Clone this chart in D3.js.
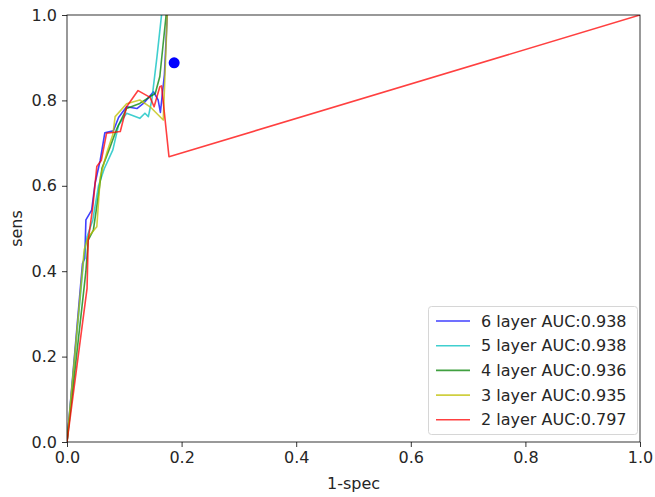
<!doctype html>
<html>
  <head>
    <script src="https://d3js.org/d3.v7.min.js"></script>
    <style>
      body { margin: 0; background: #fff; }
      text { font-family: "DejaVu Sans", sans-serif; fill: #262626; }
    </style>
  </head>
  <body>
    <svg width=655 height=497></svg>
    <script>
      // curves: false positive rate / true positive rate
      var fpr6 = [0, 0.027, 0.031, 0.033, 0.043, 0.049, 0.058, 0.066, 0.081, 0.090, 0.104, 0.122, 0.135, 0.151, 0.159, 0.163, 0.170, 0.175];
      var tpr6 = [0, 0.418, 0.430, 0.520, 0.543, 0.606, 0.660, 0.724, 0.729, 0.760, 0.785, 0.781, 0.795, 0.820, 0.801, 0.772, 0.860, 1.0];

      var fpr5 = [0, 0.030, 0.035, 0.045, 0.055, 0.065, 0.080, 0.090, 0.104, 0.127, 0.136, 0.142, 0.148, 0.157, 0.165];
      var tpr5 = [0, 0.440, 0.480, 0.520, 0.600, 0.640, 0.684, 0.742, 0.770, 0.758, 0.770, 0.762, 0.801, 0.902, 1.0];

      var fpr4 = [0, 0.033, 0.037, 0.046, 0.055, 0.061, 0.075, 0.087, 0.104, 0.127, 0.145, 0.154, 0.162, 0.173];
      var tpr4 = [0, 0.400, 0.473, 0.496, 0.580, 0.641, 0.690, 0.734, 0.781, 0.793, 0.809, 0.816, 0.856, 1.0];

      var fpr3 = [0, 0.030, 0.037, 0.052, 0.058, 0.070, 0.080, 0.084, 0.104, 0.127, 0.145, 0.168, 0.175];
      var tpr3 = [0, 0.450, 0.480, 0.504, 0.620, 0.680, 0.720, 0.762, 0.792, 0.801, 0.785, 0.754, 1.0];

      var fpr2 = [0, 0.035, 0.037, 0.045, 0.052, 0.060, 0.069, 0.093, 0.104, 0.124, 0.145, 0.152, 0.162, 0.165, 0.178, 1.0];
      var tpr2 = [0, 0.360, 0.473, 0.550, 0.645, 0.660, 0.723, 0.727, 0.785, 0.823, 0.807, 0.785, 0.832, 0.834, 0.668, 1.0];

      var labels = ["6 layer AUC:0.938", "5 layer AUC:0.938", "4 layer AUC:0.936", "3 layer AUC:0.935", "2 layer AUC:0.797"];
      var colors = ["#0000ff", "#00bfbf", "#008000", "#bfbf00", "#ff0000"];
      var point = [0.187, 0.888];
      var ticks = [0, 0.2, 0.4, 0.6, 0.8, 1.0];

      var series = [[fpr6, tpr6], [fpr5, tpr5], [fpr4, tpr4], [fpr3, tpr3], [fpr2, tpr2]];

      var svg = d3.select("svg"),
        mLeft = 67, mRight = 640, mTop = 15, mBottom = 442,
        fs = "16px";

      var x = d3.scaleLinear().domain([0, 1]).range([mLeft, mRight]);
      var y = d3.scaleLinear().domain([0, 1]).range([mBottom, mTop]);

      var line = d3.line().x(function(d){return x(d[0]);}).y(function(d){return y(d[1]);});

      svg.append("defs").append("clipPath").attr("id", "clip")
        .append("rect").attr("x", mLeft).attr("y", mTop).attr("width", mRight - mLeft).attr("height", mBottom - mTop);

      var plot = svg.append("g").attr("clip-path", "url(#clip)");

      series.forEach(function(s, i){
        var pts = s[0].map(function(v, j){return [v, s[1][j]];});
        plot.append("path")
          .attr("d", line(pts))
          .attr("fill", "none")
          .attr("stroke", colors[i])
          .attr("stroke-opacity", 0.75)
          .attr("stroke-width", 1.6)
          .attr("stroke-linejoin", "round");
      });

      plot.append("circle")
        .attr("cx", x(point[0])).attr("cy", y(point[1])).attr("r", 5.5)
        .attr("fill", "#0000ff");

      // axes
      var fmt = d3.format(".1f");
      var gx = svg.append("g").attr("transform", "translate(0," + mBottom + ")")
        .call(d3.axisBottom(x).tickValues(ticks).tickFormat(fmt).tickSize(5).tickPadding(5));
      var gy = svg.append("g").attr("transform", "translate(" + mLeft + ",0)")
        .call(d3.axisLeft(y).tickValues(ticks).tickFormat(fmt).tickSize(5).tickPadding(5));
      [gx, gy].forEach(function(g){
        g.selectAll("text").style("font-size", fs).attr("font-family", null);
        g.selectAll("line").attr("stroke", "#000").attr("stroke-width", 0.8);
        g.select(".domain").remove();
      });

      svg.append("rect")
        .attr("x", mLeft).attr("y", mTop).attr("width", mRight - mLeft).attr("height", mBottom - mTop)
        .attr("fill", "none").attr("stroke", "#000").attr("stroke-width", 0.8);

      svg.append("text").attr("x", (mLeft + mRight) / 2).attr("y", 489)
        .attr("text-anchor", "middle").style("font-size", fs).text("1-spec");
      svg.append("text").attr("transform", "translate(22," + (mTop + mBottom) / 2 + ") rotate(-90)")
        .attr("text-anchor", "middle").style("font-size", fs).text("sens");

      // legend
      var lg = svg.append("g");
      lg.append("rect").attr("x", 428.5).attr("y", 306.5).attr("width", 209).attr("height", 128).attr("rx", 3)
        .attr("fill", "#fff").attr("fill-opacity", 0.8).attr("stroke", "#d6d6d6");
      labels.forEach(function(t, i){
        var yy = 321 + i * 24.7;
        lg.append("line").attr("x1", 436).attr("x2", 470).attr("y1", yy).attr("y2", yy)
          .attr("stroke", colors[i]).attr("stroke-opacity", 0.75).attr("stroke-width", 1.6);
        lg.append("text").attr("x", 481).attr("y", yy + 5.5).style("font-size", fs).text(t);
      });
    </script>
  </body>
</html>
